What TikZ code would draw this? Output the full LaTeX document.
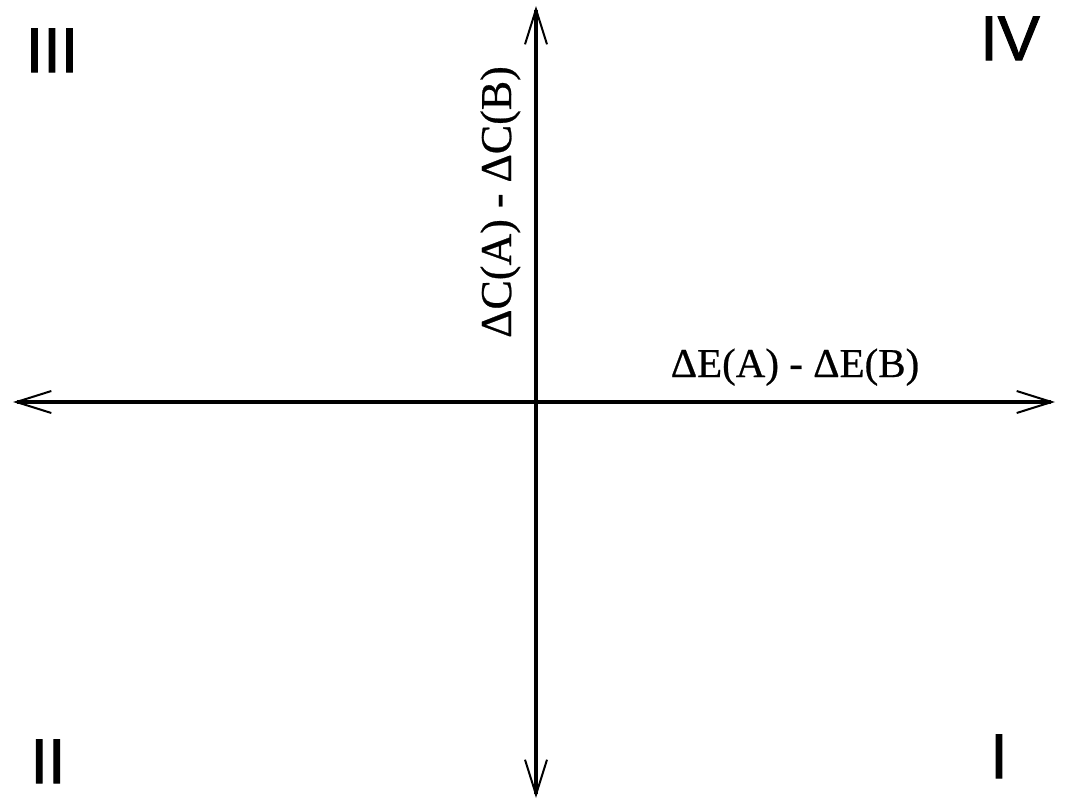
\documentclass[tikz,border=0pt]{standalone}
\usepackage{fontspec}
\setmainfont{Liberation Serif}[FakeBold=0.6]
\newfontfamily\quadfont{Liberation Sans}[FakeBold=1.6]
\usetikzlibrary{arrows.meta}
\tikzset{
  axis/.style={line width=3.6pt, {Straight Barb[length=35pt,width=22pt,line width=2pt]}-{Straight Barb[length=35pt,width=22pt,line width=2pt]}},
  quad/.style={inner sep=0pt, anchor=base, font=\quadfont\fontsize{63}{63}\selectfont},
  axlabel/.style={inner sep=0pt, anchor=base}
}
\begin{document}
\begin{tikzpicture}[x=1pt,y=-1pt]
\useasboundingbox (0,0) rectangle (1066,801);
\coordinate (xl) at (13,402);
\coordinate (xr) at (1055,402);
\coordinate (yt) at (536,6);
\coordinate (yb) at (536,798);
\draw[axis] (xl) -- (xr);
\draw[axis] (yb) -- (yt);
\node[axlabel, font=\fontsize{41}{41}\selectfont] (xlab) at (795,377) {ΔE(A) - ΔE(B)};
\node[axlabel, rotate=90, font=\fontsize{44}{44}\selectfont] (ylab) at (511,202) {ΔC(A) - ΔC(B)};
\node[quad] (q3) at (52,72) {III};
\node[quad] (q4) at (1010,60) {IV};
\node[quad] (q2) at (48,783) {II};
\node[quad] (q1) at (999,778) {I};
\end{tikzpicture}
\end{document}
